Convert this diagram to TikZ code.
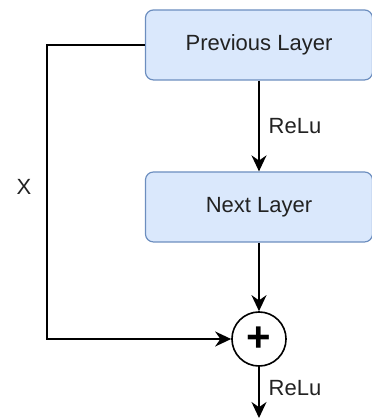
\documentclass[tikz,border=0pt]{standalone}
\usepackage{fontspec}
\setmainfont{Liberation Sans}
\usetikzlibrary{arrows.meta}
\definecolor{layerfill}{HTML}{DAE8FC}
\definecolor{layerdraw}{HTML}{6C8EBF}
\definecolor{txt}{HTML}{222222}
\tikzset{
    layer/.style={draw=layerdraw, fill=layerfill, line width=0.6pt, rounded corners=4pt, text=txt,
        minimum width=3.99cm, minimum height=1.23cm, font=\fontsize{11}{13}\selectfont},
    arr/.style={-{Stealth[length=8pt,width=7.5pt]}, line width=1pt},
    lbl/.style={text=txt, font=\fontsize{11}{13}\selectfont}
}
\begin{document}
\begin{tikzpicture}
        \useasboundingbox (0,0) rectangle (6.52,7.345);
        \coordinate (P) at (4.551,6.555);
        \coordinate (N) at (4.551,3.708);
        \coordinate (S) at (4.551,1.388);
        \coordinate (out) at (4.551,0);
        \coordinate (xl) at (0.826,6.555);
        \node (prev) at (P) [layer] {Previous Layer};
        \node (next) at (N) [layer] {Next Layer};
        \node (sum) at (S) [draw, circle, line width=0.8pt, minimum size=0.95cm, inner sep=0pt,
            font=\fontsize{21}{21}\bfseries\selectfont] {+};
        \draw[arr] (prev) -- (next) node[lbl, midway, right, xshift=1pt] {ReLu};
        \draw[arr] (next) -- (sum);
        \draw[arr] (sum) -- (out) node[lbl, midway, right, xshift=1pt, yshift=2pt] {ReLu};
        \draw[arr] (prev.west) -- (xl) |- (sum.west);
        \node (x) at (0.422,4.059) [lbl] {X};
    \end{tikzpicture}
\end{document}
